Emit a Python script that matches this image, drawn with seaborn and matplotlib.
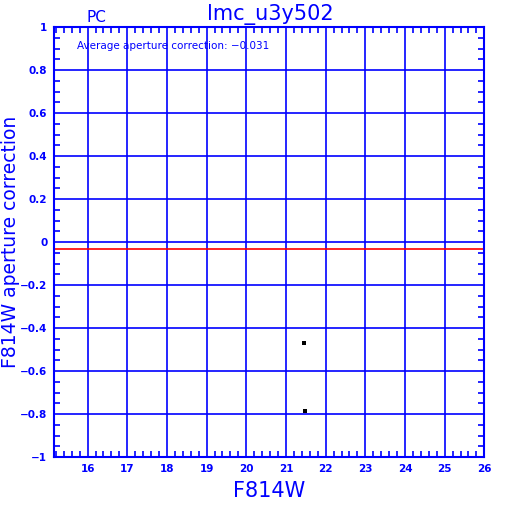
import matplotlib
matplotlib.use("Agg")
import matplotlib.pyplot as plt
import seaborn as sns
import pandas as pd
from matplotlib.ticker import MultipleLocator

# data
mag_f814w = [21.45, 21.48]
ap_corr = [-0.471, -0.787]
avg_corr = -0.031

sns.set_theme(style="white")
plt.rcParams['font.family'] = ['DejaVu Sans']

blue = "#0000ff"
df = pd.DataFrame({"F814W": mag_f814w, "corr": ap_corr})

fig = plt.figure(figsize=(5.12, 5.12), dpi=100)
ax = fig.add_axes([0.106, 0.107, 0.840, 0.840])

ax.set_xlim(15.16, 26)
ax.set_ylim(-1, 1)
ax.xaxis.set_major_locator(MultipleLocator(1))
ax.xaxis.set_minor_locator(MultipleLocator(0.2))
ax.yaxis.set_major_locator(MultipleLocator(0.2))
ax.yaxis.set_minor_locator(MultipleLocator(0.05))
ax.grid(True, which="major", color=blue, linewidth=1.2)
ax.axhline(avg_corr, color="red", linewidth=1.2)

sns.scatterplot(data=df, x="F814W", y="corr", ax=ax, color="black",
                marker="s", s=5, linewidth=0, zorder=5)

for s in ax.spines.values():
    s.set_color(blue)
    s.set_linewidth(1.5)
ax.tick_params(which="both", direction="in", top=True, right=True,
               bottom=True, left=True, colors=blue, labelcolor=blue)
ax.tick_params(which="major", length=0, labelsize=7.5)
ax.tick_params(axis="x", which="major", pad=5)
ax.tick_params(axis="y", which="major", pad=5)
ax.tick_params(which="minor", length=4, width=1.2)

ax.set_xticks(range(16, 27))
ax.set_xticklabels([str(v) for v in range(16, 27)], fontweight="bold")
yt = [round(-1 + 0.2 * i, 1) for i in range(11)]
ylabels = []
for v in yt:
    if v == 0:
        ylabels.append("0")
    elif v in (1, -1):
        ylabels.append(f"{int(v)}".replace("-", "\u2212"))
    else:
        ylabels.append(f"{v:g}".replace("-", "\u2212"))
ax.set_yticks(yt)
ax.set_yticklabels(ylabels, fontweight="bold")

ax.set_xlabel("F814W", color=blue, fontsize=15, labelpad=5)
ax.set_ylabel("F814W aperture correction", color=blue, fontsize=13.5)
ax.yaxis.set_label_coords(-0.080, 0.5)
ax.text(0.0525, 0.956, "Average aperture correction: \u22120.031", transform=ax.transAxes,
        color=blue, fontsize=7.5, va="center")
fig.text(0.527, 0.993, "lmc_u3y502", color=blue, fontsize=15, ha="center", va="top")
fig.text(0.188, 0.966, "PC", color=blue, fontsize=11, ha="center", va="center")

fig.savefig("out.png", dpi=100)
